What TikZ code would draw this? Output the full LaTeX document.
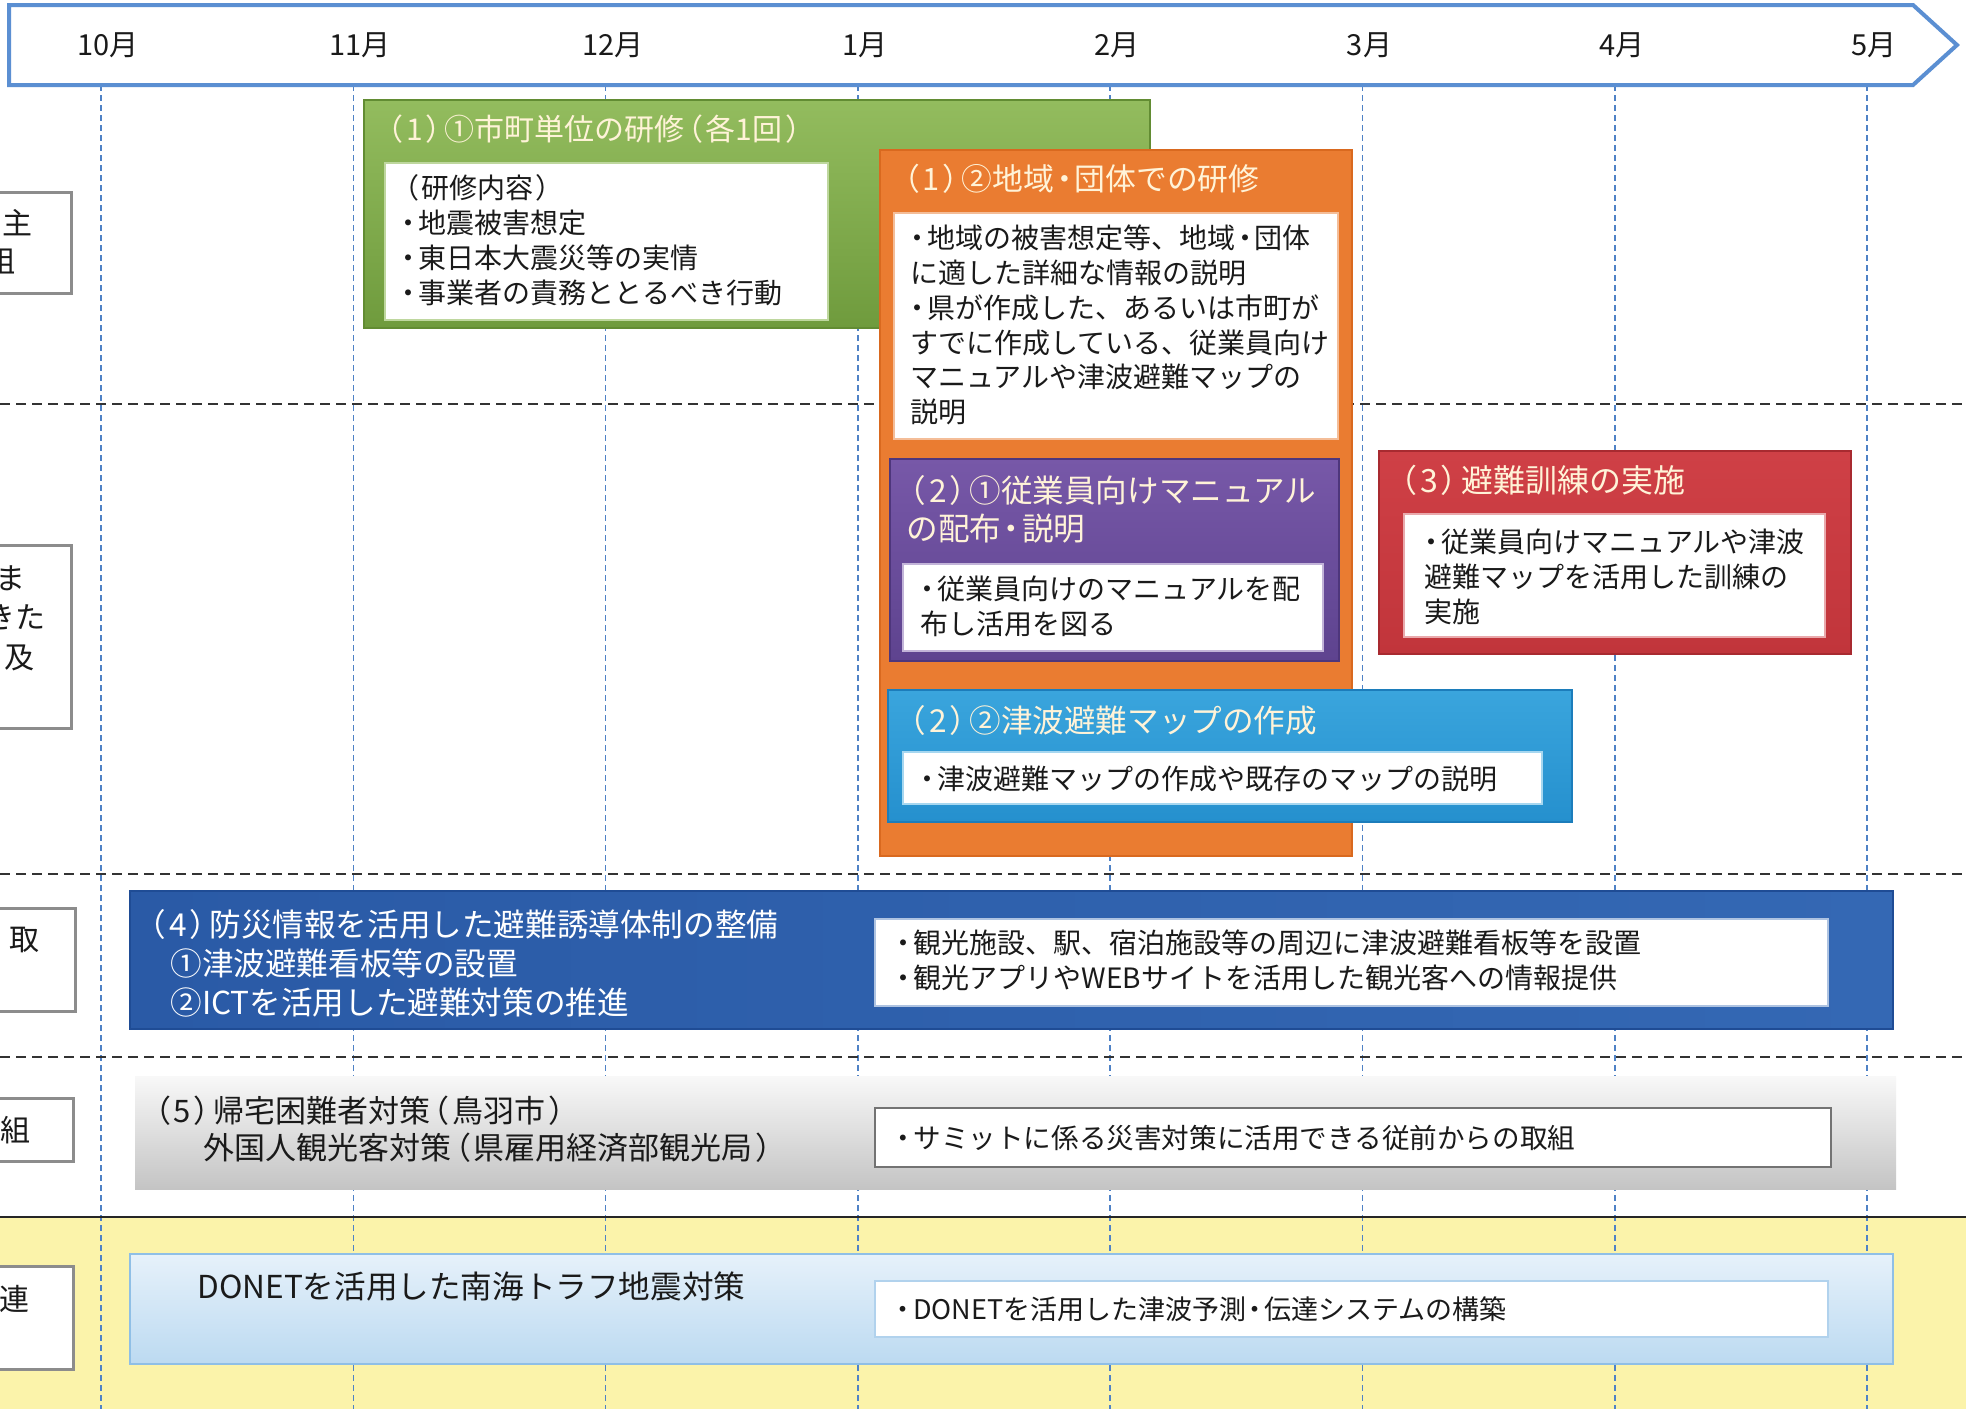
\documentclass[tikz,border=0pt]{standalone}
\usepackage{fontspec}
\setmainfont{Noto Sans CJK JP}
\newfontfamily\pfont[RawFeature=+palt]{Noto Sans CJK JP}
\newcommand\LP{\kern0.1em{\pfont （}\kern0.12em}
\newcommand\RP{\kern0.12em{\pfont ）}\kern0.1em}
\newcommand\BU{{\pfont ・}\kern0.12em}
\newcommand\MD{\kern0.08em{\pfont ・}\kern0.08em}
\definecolor{arrowblue}{HTML}{5B8FD2}
\definecolor{gridblue}{HTML}{4F82C6}
\definecolor{yellowbg}{HTML}{FBF3AA}
\definecolor{greenA}{HTML}{93BC5E}
\definecolor{greenB}{HTML}{6F9B3D}
\definecolor{greenD}{HTML}{628C33}
\definecolor{orangeA}{HTML}{EA7C31}
\definecolor{orangeD}{HTML}{D9691F}
\definecolor{purpleA}{HTML}{7758A8}
\definecolor{purpleB}{HTML}{5E438F}
\definecolor{purpleD}{HTML}{4E367C}
\definecolor{skyA}{HTML}{3AA5DD}
\definecolor{skyB}{HTML}{2590CE}
\definecolor{skyD}{HTML}{1C7DBB}
\definecolor{redA}{HTML}{CF4046}
\definecolor{redB}{HTML}{C1353B}
\definecolor{redD}{HTML}{A82A30}
\definecolor{navyA}{HTML}{3468B4}
\definecolor{navyB}{HTML}{2A5AA6}
\definecolor{navyD}{HTML}{1F4C95}
\definecolor{grayA}{HTML}{F8F8F8}
\definecolor{grayB}{HTML}{C4C4C4}
\definecolor{iceA}{HTML}{E6F1FA}
\definecolor{iceB}{HTML}{BCDAF1}
\definecolor{iceD}{HTML}{8FBFE6}
\definecolor{cream}{HTML}{FFF3D8}
\definecolor{ink}{HTML}{1A1A1A}
\begin{document}
\begin{tikzpicture}[x=0.5pt,y=-0.5pt,
  monthlbl/.style={inner sep=0, font=\fontsize{14.5}{16}\selectfont, text=ink},
  vgrid/.style={gridblue, line width=0.75pt, dash pattern=on 3pt off 2pt},
  hgrid/.style={black!80, line width=1.1pt, dash pattern=on 5pt off 3pt},
  sidebox/.style={draw=black!45, line width=1.5pt, fill=white},
  sidetxt/.style={inner sep=0, font=\fontsize{15}{18}\selectfont, text=ink},
  ttl/.style={anchor=west, inner sep=0, text=cream, align=left},
  body/.style={anchor=west, inner sep=0, text=ink, align=left, font=\fontsize{14}{17.4}\selectfont},
  whitebox/.style={fill=white, line width=1pt}]
\useasboundingbox (0,0) rectangle (1966,1409);
\fill[white] (0,0) rectangle (1966,1409);
\fill[yellowbg] (0,1217) rectangle (1966,1409);
% grid
\foreach \i in {0,...,7} {\draw[vgrid] ({101+252.3*\i},85) -- ({101+252.3*\i},1409);}
\draw[hgrid] (0,404) -- (1966,404);
\draw[hgrid] (0,874) -- (1966,874);
\draw[hgrid] (0,1057) -- (1966,1057);
\draw[black!85, line width=1.1pt] (0,1217) -- (1966,1217);
% timeline arrow
\draw[arrowblue, line width=2pt, fill=white] (9,5) -- (1913,5) -- (1957,45) -- (1913,85) -- (9,85) -- cycle;
\foreach \m [count=\i from 0] in {10,11,12,1,2,3,4,5}
  {\node[monthlbl] (m\i) at ({108+252.3*\i},45) {\m 月};}
% left row labels
\draw[sidebox] (-30,192) rectangle (71,293);
\node[sidetxt] (s1a) at (18,223) {主};
\node[sidetxt] (s1b) at (1,261) {組};
\draw[sidebox] (-30,545) rectangle (71,728);
\node[sidetxt] (s2a) at (11,578) {ま};
\node[sidetxt, anchor=east] (s2b) at (46,617) {きた};
\node[sidetxt] (s2c) at (19,658) {及};
\draw[sidebox] (-30,908) rectangle (75,1011);
\node[sidetxt] (s3) at (25,940) {取};
\draw[sidebox] (-30,1098) rectangle (73,1161);
\node[sidetxt] (s4) at (16,1130) {組};
\draw[sidebox] (-30,1266) rectangle (73,1369);
\node[sidetxt] (s5) at (14,1299) {連};
% (1)1 green
\shade[top color=greenA, bottom color=greenB] (364,100) rectangle (1150,328);
\draw[greenD, line width=0.8pt] (364,100) rectangle (1150,328);
\node[ttl, font=\fontsize{15}{18}\selectfont] (g1) at (384,129) {\LP 1\RP ①市町単位の研修\LP 各1回\RP};
\draw[whitebox, draw=greenA!60!white] (385,163) rectangle (828,320);
\node[body] (g2) at (401,240) {\LP 研修内容\RP\\\BU 地震被害想定\\\BU 東日本大震災等の実情\\\BU 事業者の責務ととるべき行動};
% (1)2 orange
\fill[orangeA] (880,150) rectangle (1352,856);
\draw[orangeD, line width=0.8pt] (880,150) rectangle (1352,856);
\node[ttl, font=\fontsize{15.4}{18}\selectfont] (o1) at (900,179) {\LP 1\RP ②地域\MD 団体での研修};
\draw[whitebox, draw=orangeA!50!white] (894,213) rectangle (1338,439);
\node[body] (o2) at (910,325) {\BU 地域の被害想定等、地域\MD 団体\\に適した詳細な情報の説明\\\BU 県が作成した、あるいは市町が\\すでに作成している、従業員向け\\マニュアルや津波避難マップの\\説明};
% (2)1 purple
\shade[top color=purpleA, bottom color=purpleB] (890,459) rectangle (1339,661);
\draw[purpleD, line width=0.8pt] (890,459) rectangle (1339,661);
\node[ttl, font=\fontsize{15.8}{19}\selectfont] (p1) at (906,509) {\LP 2\RP ①従業員向けマニュアル\\の配布\MD 説明};
\draw[whitebox, draw=purpleA!45!white] (903,564) rectangle (1323,651);
\node[body] (p2) at (920,606) {\BU 従業員向けのマニュアルを配\\布し活用を図る};
% (2)2 sky blue
\shade[top color=skyA, bottom color=skyB] (888,690) rectangle (1572,822);
\draw[skyD, line width=0.8pt] (888,690) rectangle (1572,822);
\node[ttl, font=\fontsize{15.8}{19}\selectfont] (b1) at (906,720) {\LP 2\RP ②津波避難マップの作成};
\draw[whitebox, draw=skyA!45!white] (903,752) rectangle (1542,804);
\node[body] (b2) at (920,779) {\BU 津波避難マップの作成や既存のマップの説明};
% (3) red
\shade[top color=redA, bottom color=redB] (1379,451) rectangle (1851,654);
\draw[redD, line width=0.8pt] (1379,451) rectangle (1851,654);
\node[ttl, font=\fontsize{16}{19}\selectfont] (r1) at (1397,480) {\LP 3\RP 避難訓練の実施};
\draw[whitebox, draw=redA!45!white] (1404,514) rectangle (1825,637);
\node[body] (r2) at (1424,577) {\BU 従業員向けマニュアルや津波\\避難マップを活用した訓練の\\実施};
% (4) navy
\shade[left color=navyB, right color=navyA] (130,891) rectangle (1893,1029);
\draw[navyD, line width=0.8pt] (130,891) rectangle (1893,1029);
\node[ttl, text=white, font=\fontsize{15.8}{19.5}\selectfont] (n1) at (146,963) {\LP 4\RP 防災情報を活用した避難誘導体制の整備\\\hspace{12pt}①津波避難看板等の設置\\\hspace{12pt}②ICTを活用した避難対策の推進};
\draw[whitebox, draw=navyA!40!white] (875,919) rectangle (1828,1006);
\node[body, font=\fontsize{14}{17.5}\selectfont] (n2) at (896,960.5) {\BU 観光施設、駅、宿泊施設等の周辺に津波避難看板等を設置\\\BU 観光アプリやWEBサイトを活用した観光客への情報提供};
% (5) gray
\shade[top color=grayA, bottom color=grayB] (135,1076) rectangle (1896,1189);
\node[ttl, text=ink, font=\fontsize{15.5}{18.5}\selectfont] (q1) at (151,1129.5) {\LP 5\RP 帰宅困難者対策\LP 鳥羽市\RP\\\hspace{26pt}外国人観光客対策\LP 県雇用経済部観光局\RP};
\draw[whitebox, draw=black!55, line width=1.3pt] (875,1108) rectangle (1831,1167);
\node[body, font=\fontsize{13.8}{17}\selectfont] (q2) at (896,1138) {\BU サミットに係る災害対策に活用できる従前からの取組};
% DONET
\shade[top color=iceA, bottom color=iceB] (130,1254) rectangle (1893,1364);
\draw[iceD, line width=0.8pt] (130,1254) rectangle (1893,1364);
\node[ttl, text=ink, font=\fontsize{15.8}{19}\selectfont] (d1) at (197,1286) {DONETを活用した南海トラフ地震対策};
\draw[whitebox, draw=iceD!70!white, line width=1.3pt] (875,1281) rectangle (1828,1337);
\node[body, font=\fontsize{13.5}{17}\selectfont] (d2) at (896,1309) {\BU DONETを活用した津波予測\MD 伝達システムの構築};
\end{tikzpicture}
\end{document}
